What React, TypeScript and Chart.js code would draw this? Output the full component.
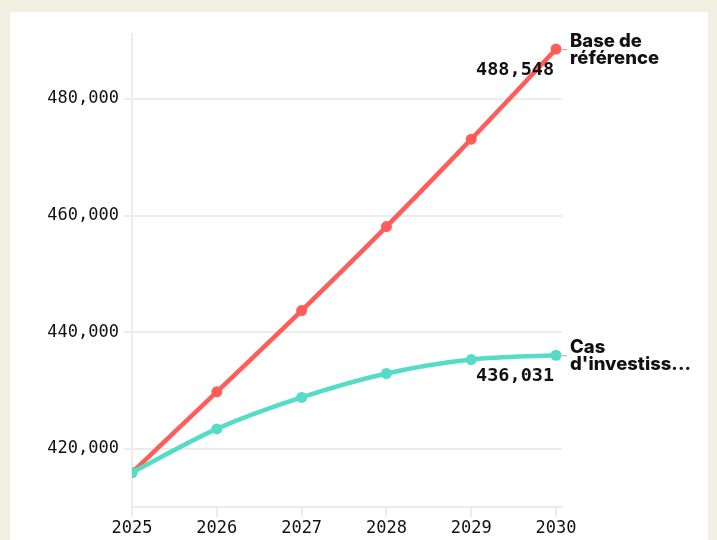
import React, { useEffect, useRef } from "react";
import { Chart, registerables } from "chart.js";

Chart.register(...registerables);

const years = [2025, 2026, 2027, 2028, 2029, 2030];
const baseline = [415900, 429750, 443700, 458100, 473100, 488548];
const investment = [415900, 423400, 428800, 432900, 435300, 436031];
const yTicks = [420000, 440000, 460000, 480000];
const seriesNames = [["Base de", "référence"], ["Cas", "d'investiss..."]];
const valueLabels = ["488,548", "436,031"];

const RED = "#ff5c5a";
const TEAL = "#55dcc7";
const GRID = "#ececec";
const MONO = "'DejaVu Sans Mono', monospace";
const SANS = "Inter, 'Liberation Sans', sans-serif";

const endLabels = {
  id: "endLabels",
  afterDatasetsDraw(chart: any) {
    const ctx = chart.ctx;
    chart.data.datasets.forEach((ds: any, i: number) => {
      const meta = chart.getDatasetMeta(i);
      const pt = meta.data[meta.data.length - 1];
      if (!pt) return;
      ctx.save();
      ctx.strokeStyle = "#aaaaaa";
      ctx.lineWidth = 1;
      ctx.beginPath();
      ctx.moveTo(pt.x + 6, pt.y + 0.5);
      ctx.lineTo(pt.x + 11, pt.y + 0.5);
      ctx.stroke();
      ctx.fillStyle = "#111111";
      ctx.textBaseline = "middle";
      ctx.font = "bold 18.5px " + MONO;
      ctx.textAlign = "right";
      ctx.fillText(valueLabels[i], pt.x - 2, pt.y + 21);
      ctx.font = "800 18.5px " + SANS;
      ctx.textAlign = "left";
      const lines = seriesNames[i];
      ctx.fillText(lines[0], pt.x + 14, pt.y - 8);
      ctx.fillText(lines[1], pt.x + 14, pt.y + 9);
      ctx.restore();
    });
  },
};

export default function App() {
  const ref = useRef<HTMLCanvasElement>(null);
  useEffect(() => {
    document.body.style.margin = "0";
    document.body.style.background = "#f1eee2";
    const chart = new Chart(ref.current!, {
      type: "line",
      data: {
        datasets: [
          {
            label: "Base de référence",
            data: years.map((x, i) => ({ x, y: baseline[i] })),
            borderColor: RED,
            backgroundColor: RED,
            borderWidth: 4.5,
            pointRadius: 5.5,
            pointBorderWidth: 0,
            cubicInterpolationMode: "monotone",
            order: 2,
          },
          {
            label: "Cas d'investissement",
            data: years.map((x, i) => ({ x, y: investment[i] })),
            borderColor: TEAL,
            backgroundColor: TEAL,
            borderWidth: 4.5,
            pointRadius: 5.5,
            pointBorderWidth: 0,
            cubicInterpolationMode: "monotone",
            order: 1,
          },
        ],
      },
      options: {
        animation: false,
        responsive: false,
        layout: { padding: { top: 22, right: 146, left: 0, bottom: 0 } },
        plugins: { legend: { display: false }, tooltip: { enabled: false } },
        scales: {
          x: {
            type: "linear",
            min: 2025,
            max: 2030.07,
            afterBuildTicks: (s: any) => {
              s.ticks = years.map((v) => ({ value: v }));
            },
            afterFit: (s: any) => {
              s.height = 33;
            },
            grid: { drawOnChartArea: false, drawTicks: true, tickLength: 10, color: GRID, lineWidth: 2 },
            border: { display: true, color: GRID, width: 2 },
            ticks: {
              padding: 1,
              color: "#111111",
              font: { family: MONO, size: 17 },
              maxRotation: 0,
              callback: (v: any) => String(v),
            },
          },
          y: {
            min: 410000,
            max: 491140,
            afterBuildTicks: (s: any) => {
              s.ticks = yTicks.map((v) => ({ value: v }));
            },
            afterFit: (s: any) => {
              s.width = 122;
            },
            grid: { color: GRID, lineWidth: 2, tickLength: 8 },
            border: { display: true, color: GRID, width: 2 },
            ticks: {
              padding: 5,
              color: "#111111",
              font: { family: MONO, size: 17 },
              callback: (v: any) => Number(v).toLocaleString("en-US"),
            },
          },
        },
      },
      plugins: [endLabels],
    } as any);
    return () => chart.destroy();
  }, []);
  return (
    <div
      style={{
        position: "absolute",
        left: 10,
        top: 12,
        width: 698,
        height: 528,
        background: "#ffffff",
      }}
    >
      <canvas ref={ref} width={698} height={528} style={{ display: "block" }} />
    </div>
  );
}
